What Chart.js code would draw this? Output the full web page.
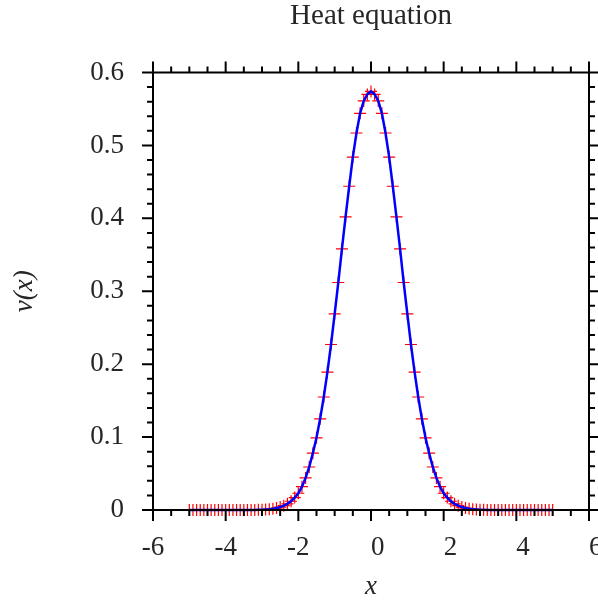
<!DOCTYPE html>
<html><head><meta charset="utf-8">
<script src="https://cdn.jsdelivr.net/npm/chart.js@4"></script>
<style>html,body{margin:0;padding:0;background:#fff;}canvas{display:block;}</style>
</head><body>
<canvas id="c" width="598" height="600"></canvas>
<script>
const chartTitle = 'Heat equation';
const xAxisTitle = 'x';
const yAxisTitle = 'v(x)';
const xValues = [
 -5.0,-4.9,-4.8,-4.7,-4.6,-4.5,-4.4,-4.3,-4.2,-4.1,
 -4.0,-3.9,-3.8,-3.7,-3.6,-3.5,-3.4,-3.3,-3.2,-3.1,
 -3.0,-2.9,-2.8,-2.7,-2.6,-2.5,-2.4,-2.3,-2.2,-2.1,
 -2.0,-1.9,-1.8,-1.7,-1.6,-1.5,-1.4,-1.3,-1.2,-1.1,
 -1.0,-0.9,-0.8,-0.7,-0.6,-0.5,-0.4,-0.3,-0.2,-0.1,
 0.0,
 0.1,0.2,0.3,0.4,0.5,0.6,0.7,0.8,0.9,1.0,
 1.1,1.2,1.3,1.4,1.5,1.6,1.7,1.8,1.9,2.0,
 2.1,2.2,2.3,2.4,2.5,2.6,2.7,2.8,2.9,3.0,
 3.1,3.2,3.3,3.4,3.5,3.6,3.7,3.8,3.9,4.0,
 4.1,4.2,4.3,4.4,4.5,4.6,4.7,4.8,4.9,5.0
];
const vValues = [
 0,0,0,0,0,0,0,0,0,0,
 0,0,0,0,0,0,0,0,0.0001,0.0002,
 0.0004,0.0007,0.0011,0.0018,0.0027,0.004,0.006,0.0085,0.012,0.017,
 0.023,0.032,0.044,0.059,0.078,0.099,0.125,0.155,0.189,0.227,
 0.269,0.312,0.358,0.402,0.444,0.484,0.517,0.544,0.561,0.570,
 0.574,
 0.570,0.561,0.544,0.517,0.484,0.444,0.402,0.358,0.312,0.269,
 0.227,0.189,0.155,0.125,0.099,0.078,0.059,0.044,0.032,0.023,
 0.017,0.012,0.0085,0.006,0.004,0.0027,0.0018,0.0011,0.0007,0.0004,
 0.0002,0.0001,0,0,0,0,0,0,0,0,
 0,0,0,0,0,0,0,0,0,0
];
const xTickValues = [-6,-4,-2,0,2,4,6];
const xTickLabels = ['-6','-4','-2','\u20070','\u20072','\u20074','\u20076'];
const yTickValues = [0,0.1,0.2,0.3,0.4,0.5,0.6];
const yTickLabels = ['0','0.1','0.2','0.3','0.4','0.5','0.6'];
const xMinorStep = 0.5;
const yMinorStep = 0.02;

const FONT = "'Liberation Serif','Times New Roman',serif";
const TXT = '#262626';
const points = xValues.map((x, i) => ({x: x, y: vValues[i]}));

const frameTicks = {
  id: 'frameTicks',
  afterDatasetsDraw(chart) {
    const ctx = chart.ctx, xs = chart.scales.x, ys = chart.scales.y;
    const L = xs.getPixelForValue(xs.min), R = xs.getPixelForValue(xs.max);
    const T = ys.getPixelForValue(ys.max), B = ys.getPixelForValue(ys.min);
    ctx.save();
    ctx.strokeStyle = '#000';
    ctx.lineWidth = 2;
    ctx.lineCap = 'square';
    ctx.strokeRect(L, T, R - L, B - T);
    ctx.lineCap = 'butt';
    const MAJ = 11, MIN = 6;
    const isMajor = (v, arr) => arr.some(a => Math.abs(a - v) < 1e-6);
    ctx.beginPath();
    const nx = Math.round((xs.max - xs.min) / xMinorStep);
    for (let i = 0; i <= nx; i++) {
      const v = xs.min + i * xMinorStep;
      const px = xs.getPixelForValue(v);
      const len = isMajor(v, xTickValues) ? MAJ : MIN;
      ctx.moveTo(px, B); ctx.lineTo(px, B + len);
      ctx.moveTo(px, T); ctx.lineTo(px, T - len);
    }
    const ny = Math.round((ys.max - ys.min) / yMinorStep);
    for (let i = 0; i <= ny; i++) {
      const v = ys.min + i * yMinorStep;
      const py = ys.getPixelForValue(v);
      const len = isMajor(v, yTickValues) ? MAJ : MIN;
      ctx.moveTo(L, py); ctx.lineTo(L - len, py);
      ctx.moveTo(R, py); ctx.lineTo(R + len, py);
    }
    ctx.stroke();
    ctx.restore();
  }
};

new Chart(document.getElementById('c'), {
  type: 'line',
  data: {
    datasets: [
      {
        data: points,
        borderColor: '#0000ff',
        borderWidth: 2.5,
        pointRadius: 0,
        fill: false,
        tension: 0,
        clip: false
      },
      {
        data: points,
        showLine: false,
        pointStyle: 'cross',
        pointRadius: 6,
        pointBorderColor: '#ff0000',
        pointBackgroundColor: '#ff0000',
        pointBorderWidth: 1.2,
        clip: false
      }
    ]
  },
  options: {
    responsive: false,
    animation: false,
    devicePixelRatio: 1,
    layout: {padding: {left: 0, right: 9, top: 0, bottom: 0}},
    plugins: {
      legend: {display: false},
      tooltip: {enabled: false},
      title: {
        display: true,
        text: chartTitle,
        fullSize: false,
        color: TXT,
        font: {family: FONT, size: 29, weight: 'normal', lineHeight: 1.15},
        padding: {top: 0, bottom: 39.15}
      }
    },
    scales: {
      x: {
        type: 'linear',
        position: 'bottom',
        min: -6, max: 6,
        grid: {display: false, drawTicks: false},
        border: {display: false},
        afterBuildTicks: s => { s.ticks = xTickValues.map(v => ({value: v})); },
        ticks: {
          autoSkip: false, maxRotation: 0,
          color: TXT, padding: 21.7,
          font: {family: FONT, size: 27, lineHeight: 1.2},
          callback: (v) => xTickLabels[xTickValues.indexOf(v)] ?? ''
        },
        title: {
          display: true, text: xAxisTitle, color: TXT,
          font: {family: FONT, size: 27, style: 'italic', lineHeight: 1},
          padding: {top: 0, bottom: 0}
        },
        afterFit: s => { s.height = 90; s.paddingLeft = 0; s.paddingRight = 0; }
      },
      y: {
        type: 'linear',
        min: 0, max: 0.6,
        grid: {display: false, drawTicks: false},
        border: {display: false},
        afterBuildTicks: s => { s.ticks = yTickValues.map(v => ({value: v})); },
        ticks: {
          autoSkip: false,
          color: TXT, padding: 29,
          font: {family: FONT, size: 27, lineHeight: 1.2},
          callback: (v) => { const i = yTickValues.findIndex(a => Math.abs(a - v) < 1e-9); return i >= 0 ? yTickLabels[i] : ''; }
        },
        title: {
          display: true, text: yAxisTitle, color: TXT,
          font: {family: FONT, size: 27, style: 'italic', lineHeight: 1.2},
          padding: {top: 8.6, bottom: 0}
        },
        afterFit: s => { s.width = 153; s.paddingTop = 0; s.paddingBottom = 0; }
      }
    }
  },
  plugins: [frameTicks]
});
</script>
</body></html>
